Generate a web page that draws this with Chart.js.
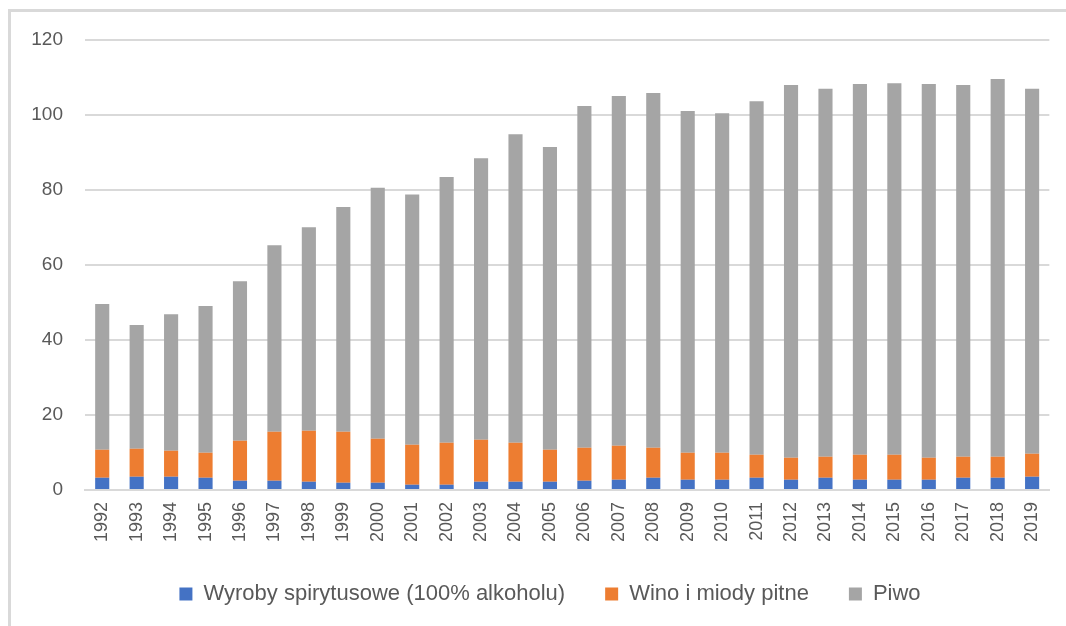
<!DOCTYPE html>
<html>
<head>
<meta charset="utf-8">
<script src="https://cdn.jsdelivr.net/npm/chart.js@4"></script>
<style>
  html, body { margin: 0; padding: 0; background: #fff; }
  #wrap { position: relative; width: 1066px; height: 626px; overflow: hidden; }
  #frame { position: absolute; left: 8px; top: 9px; width: 1080px; height: 640px;
           border-left: 3px solid #d9d9d9; border-top: 3px solid #d9d9d9; box-sizing: border-box; }
  #c { position: absolute; left: 0; top: 0; }
</style>
</head>
<body>
<div id="wrap">
  <div id="frame"></div>
  <canvas id="c" width="1066" height="626"></canvas>
</div>
<script>
// Spożycie napojów alkoholowych, 1992–2019
const years = ['1992','1993','1994','1995','1996','1997','1998','1999','2000','2001',
  '2002','2003','2004','2005','2006','2007','2008','2009','2010','2011',
  '2012','2013','2014','2015','2016','2017','2018','2019'];

const spirits = [3.3, 3.55, 3.55, 3.3, 2.5, 2.5, 2.2, 1.95, 1.95, 1.4,
  1.4, 2.2, 2.2, 2.2, 2.5, 2.75, 3.3, 2.75, 2.75, 3.3,
  2.75, 3.3, 2.75, 2.75, 2.75, 3.3, 3.3, 3.55];

const wine = [7.45, 7.45, 6.95, 6.65, 10.65, 13.05, 13.6, 13.6, 11.75, 10.7,
  11.2, 11.2, 10.4, 8.55, 8.8, 9.05, 8.0, 7.2, 7.2, 6.1,
  5.85, 5.6, 6.65, 6.65, 5.85, 5.6, 5.6, 6.15];

const beer = [38.85, 33.0, 36.4, 39.15, 42.55, 49.75, 54.3, 59.95, 66.9, 66.7,
  70.9, 75.1, 82.3, 80.75, 91.1, 93.3, 94.6, 91.15, 90.55, 94.3,
  99.4, 98.1, 98.9, 99.1, 99.7, 99.1, 100.7, 97.3];

const seriesNames = ['Wyroby spirytusowe (100% alkoholu)', 'Wino i miody pitne', 'Piwo'];
const seriesColors = ['#4472C4', '#ED7D31', '#A5A5A5'];
const yTicks = [0, 20, 40, 60, 80, 100, 120];

const textColor = '#595959';
const gridColor = '#d9d9d9';
const fontFamily = "'Liberation Sans', Arial, sans-serif";

const datasets = [spirits, wine, beer].map((values, i) => ({
  label: seriesNames[i],
  data: values,
  backgroundColor: seriesColors[i],
  borderWidth: 0,
  barPercentage: 0.41,
  categoryPercentage: 1.0
}));

// Centre the legend row under the plot area rather than the whole canvas
const legendOffset = {
  id: 'legendOffset',
  afterLayout(chart) {
    if (chart.legend) chart.legend.left += 50;
  }
};

new Chart(document.getElementById('c'), {
  type: 'bar',
  data: { labels: years, datasets },
  plugins: [legendOffset],
  options: {
    responsive: false,
    animation: false,
    layout: { padding: { left: 0, right: 16, top: 40, bottom: 11 } },
    plugins: {
      tooltip: { enabled: false },
      legend: {
        position: 'bottom',
        labels: {
          boxWidth: 13,
          boxHeight: 13,
          padding: 40,
          color: textColor,
          font: { family: fontFamily, size: 22 }
        }
      }
    },
    scales: {
      x: {
        stacked: true,
        grid: { display: false, drawTicks: false },
        border: { display: true, color: gridColor, width: 2 },
        ticks: {
          color: textColor,
          font: { family: fontFamily, size: 18 },
          minRotation: 90,
          maxRotation: 90,
          padding: 12,
          autoSkip: false
        },
        afterFit: (s) => { s.height = 53; }
      },
      y: {
        stacked: true,
        min: 0,
        max: 120,
        afterBuildTicks: (s) => { s.ticks = yTicks.map(v => ({ value: v })); },
        grid: { color: gridColor, lineWidth: 2, drawTicks: false },
        border: { display: false },
        ticks: {
          color: textColor,
          font: { family: fontFamily, size: 19 },
          padding: 22
        },
        afterFit: (s) => { s.width = 85; }
      }
    }
  }
});
</script>
</body>
</html>
